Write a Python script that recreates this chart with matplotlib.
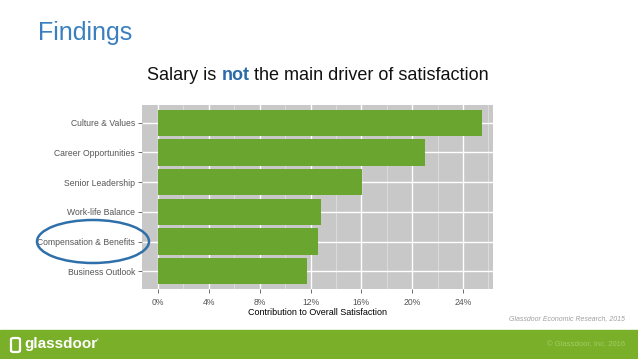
import matplotlib.pyplot as plt
from matplotlib.patches import Ellipse, Rectangle, FancyBboxPatch

plt.rcParams['font.family'] = ['Liberation Sans', 'DejaVu Sans']

# data (bottom to top)
categories = ['Business Outlook', 'Compensation & Benefits', 'Work-life Balance',
              'Senior Leadership', 'Career Opportunities', 'Culture & Values']
values = [11.7, 12.55, 12.8, 16.05, 21.0, 25.5]
xticks = [0, 4, 8, 12, 16, 20, 24]
xtick_labels = ['0%', '4%', '8%', '12%', '16%', '20%', '24%']

W, H = 638, 359
fig = plt.figure(figsize=(W / 100, H / 100), dpi=100)
fig.patch.set_facecolor('white')

def fx(px):
    return px / W

def fy(py):
    return 1 - py / H

# panel
left, right, top, bottom = 142, 493, 105, 289
ax = fig.add_axes([fx(left), fy(bottom), fx(right - left), (bottom - top) / H])
ax.set_facecolor('#c8c8c8')
ax.set_xlim(-1.26, 26.36)
ax.set_ylim(-0.6, 5.6)
for s in ax.spines.values():
    s.set_visible(False)
ax.set_xticks(xticks)
ax.set_xticks([2, 6, 10, 14, 18, 22, 26], minor=True)
ax.set_xticklabels(xtick_labels)
ax.set_yticks(range(len(categories)))
ax.set_yticklabels(categories)
ax.grid(True, which='major', color='white', lw=1.0)
ax.grid(True, which='minor', axis='x', color='#e4e4e4', lw=0.5)
ax.set_axisbelow(True)
ax.tick_params(which='major', length=3, width=0.6, color='#555555',
               labelsize=6.2, labelcolor='#555555', pad=2)
ax.tick_params(axis='x', pad=3.5)
ax.tick_params(which='minor', length=0)
ax.barh(range(len(categories)), values, height=0.89, color='#6aa530', zorder=3)
ax.set_xlabel('Contribution to Overall Satisfaction', fontsize=6.5, color='black', labelpad=1)

# slide title
fig.text(fx(38), fy(33), 'Findings', fontsize=18, color='#3a80c0', va='center', ha='left')

# chart title with bold word
parts = [('Salary is ', 'normal', '#111111'), ('not', 'bold', '#2a6aa8'),
         (' the main driver of satisfaction', 'normal', '#111111')]
fig.canvas.draw()
r = fig.canvas.get_renderer()
texts = []
for s, wgt, c in parts:
    t = fig.text(0, fy(75), s, fontsize=13, fontweight=wgt, color=c, va='center', ha='left')
    texts.append(t)
widths = [t.get_window_extent(r).width for t in texts]
x0 = (318 - sum(widths) / 2)
for t, w in zip(texts, widths):
    t.set_x(x0 / W)
    x0 += w

# circle around compensation label
fig.add_artist(Ellipse((fx(93), fy(241.5)), fx(112), 43 / H, fill=False,
                       ec='#2f70aa', lw=1.8, transform=fig.transFigure))

# source
fig.text(fx(625), fy(319), 'Glassdoor Economic Research, 2015', fontsize=5,
         style='italic', color='#a0a0a0', ha='right', va='center')

# footer band
fig.add_artist(Rectangle((0, 0), 1, 29 / H, color='#7aaf2a', transform=fig.transFigure, zorder=0))
fig.add_artist(FancyBboxPatch((fx(11), fy(352)), fx(9), 14 / H,
                              boxstyle='round,pad=0,rounding_size=0.004', fill=False,
                              ec='white', lw=1.6, transform=fig.transFigure))
fig.text(fx(24), fy(344), 'glassdoor', fontsize=11, fontweight='bold', color='white',
         ha='left', va='center')
fig.text(fx(96), fy(340), '®', fontsize=3, color='white', ha='left', va='center')
fig.text(fx(625), fy(345), '© Glassdoor, Inc. 2016', fontsize=5.5, color='#a3cc62',
         ha='right', va='center')

fig.savefig('out.png', dpi=100, facecolor='white')
